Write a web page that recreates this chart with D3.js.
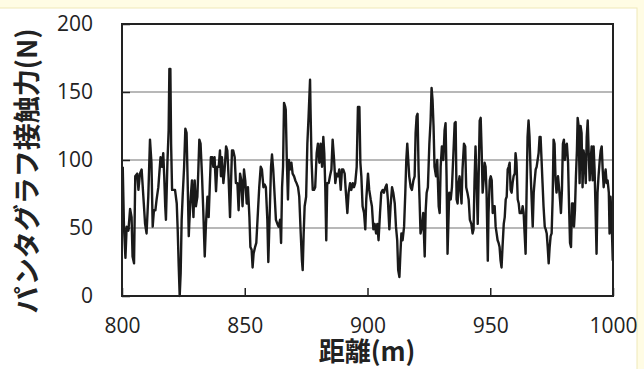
<!DOCTYPE html>
<html>
<head>
<meta charset="utf-8">
<script src="https://cdn.jsdelivr.net/npm/d3@7"></script>
<style>
  body { margin: 0; background: #fffce4; }
  svg { display: block; }
</style>
</head>
<body>
<div id="chart"></div>
<script>
// distance along track (m) and pantograph contact force (N)
const distance = [
  800.3,800.8,801.4,801.9,802.6,803.3,803.9,804.3,804.9,805.4,806.2,806.7,807.3,808.0,808.7,809.4,810.0,810.7,811.4,812.0,
  812.5,813.0,813.6,814.1,814.8,815.2,815.7,816.3,816.8,817.2,817.6,817.9,818.5,819.0,819.3,819.7,820.0,820.4,820.9,821.6,
  822.3,822.7,823.1,823.5,823.9,824.3,824.7,825.3,825.8,826.3,826.7,827.2,827.4,828.0,828.5,829.1,829.6,830.1,830.7,831.1,
  831.5,832.0,832.6,833.1,833.7,834.2,834.8,835.3,835.8,836.2,836.8,837.2,837.7,838.3,838.8,839.4,839.9,840.3,840.7,841.3,
  841.8,842.4,842.9,843.4,844.0,844.4,844.8,845.3,845.9,846.4,847.0,847.5,848.1,848.6,849.1,849.7,850.2,850.8,851.3,851.9,
  852.3,852.8,853.2,853.6,854.2,854.7,855.4,855.9,856.5,857.0,857.6,858.1,858.6,859.2,859.6,860.1,860.7,861.1,861.6,862.2,
  862.7,863.3,863.8,864.4,864.8,865.2,865.6,866.0,866.5,
  866.7,867.1,867.6,868.0,868.4,869.0,869.5,870.1,870.6,871.1,871.7,872.2,872.8,873.3,873.6,874.0,874.4,875.0,875.5,876.0,
  876.6,876.8,877.2,877.7,878.2,878.7,879.3,879.8,880.4,880.9,881.5,882.0,882.4,882.8,883.2,883.6,884.2,884.7,885.3,885.8,
  886.4,886.9,887.4,888.0,888.5,889.1,889.6,890.1,890.7,891.2,891.8,892.3,892.9,893.4,894.0,894.5,895.0,895.6,896.1,896.7,
  897.1,897.5,898.0,898.6,899.1,899.5,
  900.2,900.7,901.3,901.8,902.4,902.9,903.5,904.0,904.5,905.1,905.6,906.2,906.7,907.3,907.8,908.3,908.9,909.4,910.0,910.5,
  911.1,911.6,912.1,912.5,913.0,913.4,913.8,914.3,914.9,915.4,915.8,916.2,916.6,917.0,917.6,918.1,918.7,919.2,919.6,920.0,
  920.4,920.8,921.2,921.6,922.2,922.7,923.3,923.7,924.1,924.6,925.2,925.7,926.1,926.5,926.9,927.3,927.9,928.4,929.0,929.4,
  929.8,930.3,930.9,931.4,931.8,932.2,932.6,
  933.3,933.9,934.4,935.0,935.5,935.9,936.3,936.7,937.1,937.5,937.9,938.3,938.7,939.3,939.8,940.2,940.7,941.2,941.7,942.3,
  942.8,943.2,943.6,944.0,944.5,944.9,945.3,945.7,946.1,946.5,946.9,947.3,947.7,948.1,948.5,949.0,949.3,949.8,950.2,950.6,
  951.0,951.4,951.8,952.2,952.6,953.0,953.4,953.8,954.2,954.6,955.0,955.5,955.9,956.3,956.7,957.1,957.5,957.9,958.3,958.7,
  959.1,959.5,960.0,960.3,960.7,961.2,961.6,962.0,962.4,962.8,963.2,963.6,964.0,964.4,964.8,965.2,965.6,966.0,966.5,
  967.3,967.7,968.1,968.5,968.9,969.3,969.7,970.1,970.5,970.9,971.3,971.7,972.2,972.6,973.0,973.4,973.8,974.2,974.6,975.0,
  975.4,975.8,976.2,976.6,977.0,977.6,978.0,978.4,978.8,979.2,979.6,980.0,980.4,980.8,981.2,981.7,982.1,982.5,982.9,983.3,
  983.7,984.1,984.5,984.9,985.3,985.6,986.0,986.4,986.8,987.2,987.6,988.0,988.5,988.9,989.3,989.7,990.1,990.5,990.9,991.3,
  991.7,992.1,992.5,992.9,993.3,993.7,994.1,994.6,995.0,995.4,995.8,996.2,996.6,997.0,997.4,997.8,998.3,998.6,999.0,999.4,
  999.9
];
const force = [
  95,51,28,51,48,64,58,29,24,88,90,78,90,93,73,53,46,73,115,98,
  51,63,63,71,80,90,102,95,105,88,66,56,98,122,167,167,112,78,78,78,
  68,48,22,0,17,56,73,95,123,120,88,44,53,73,85,58,85,66,73,93,
  115,112,88,63,29,53,73,58,83,102,102,95,102,77,95,95,107,88,102,83,
  93,110,107,88,58,83,107,107,102,83,83,63,90,85,66,93,85,68,80,58,
  36,34,21,31,36,39,63,80,95,93,80,82,80,56,25,56,95,104,93,73,
  56,53,51,56,39,80,95,142,139,
  137,102,71,100,93,98,90,88,85,83,80,73,46,26,19,46,66,73,112,132,
  159,137,100,78,78,80,105,112,98,112,95,117,105,80,41,83,83,88,93,115,
  100,83,90,88,93,78,93,93,90,76,61,76,83,78,83,80,83,95,139,139,
  98,88,66,61,49,71,
  90,78,71,66,49,53,46,53,41,61,76,78,76,80,82,71,49,66,80,76,
  68,51,41,19,14,31,46,41,51,76,100,112,100,88,80,78,85,88,120,132,
  134,93,71,46,51,61,29,63,76,80,112,129,153,144,125,95,88,100,66,61,
  95,110,100,122,127,88,31,
  76,71,80,105,127,128,71,68,83,88,78,68,93,112,110,80,76,71,56,53,
  46,49,85,110,80,53,90,129,131,107,76,85,98,95,76,26,61,85,88,85,
  61,66,66,51,46,41,39,36,26,21,36,53,58,71,73,93,95,98,78,76,
  83,88,90,105,98,71,68,61,61,61,66,61,46,31,76,117,129,117,88,
  51,76,85,93,95,100,105,117,117,100,83,66,51,49,46,36,24,36,44,46,
  71,115,112,85,76,88,80,71,61,78,112,115,100,110,112,98,66,39,36,68,
  68,51,63,88,107,131,125,83,125,120,80,107,100,83,117,129,105,85,100,110,
  85,110,93,63,31,76,88,100,107,110,93,80,88,93,83,85,76,46,73,58,
  26
];
const xTicks = [800, 850, 900, 950, 1000];
const yTicks = [0, 50, 100, 150, 200];
const gridValues = [50, 100, 150];

const W = 644, H = 369;
const plotLeft = 122, plotRight = 613, plotTop = 24, plotBottom = 296;

const svg = d3.select("#chart").append("svg")
  .attr("width", W)
  .attr("height", H);

// white card on the pale yellow page
svg.append("rect")
  .attr("x", -1).attr("y", 8)
  .attr("width", 638).attr("height", H)
  .attr("fill", "#ffffff")
  .attr("stroke", "#efe8b8")
  .attr("stroke-width", 1);

const x = d3.scaleLinear().domain([800, 1000]).range([plotLeft, plotRight]);
const y = d3.scaleLinear().domain([0, 200]).range([plotBottom, plotTop]);

// gridlines
svg.append("g")
  .selectAll("line")
  .data(gridValues)
  .join("line")
  .attr("x1", plotLeft).attr("x2", plotRight)
  .attr("y1", d => y(d)).attr("y2", d => y(d))
  .attr("stroke", "#a0a0a0")
  .attr("stroke-width", 1.5);

// y axis
const yAxis = d3.axisLeft(y).tickValues(yTicks).tickSizeInner(-8).tickSizeOuter(0).tickPadding(29);
svg.append("g")
  .attr("transform", "translate(" + plotLeft + ",0)")
  .call(yAxis)
  .call(g => g.select(".domain").remove())
  .call(g => g.selectAll("line").attr("stroke", "#222").attr("stroke-width", 1.5))
  .call(g => g.selectAll("text")
    .attr("fill", "#222")
    .style("font", "21px 'Open Sans', sans-serif"));

// x axis
const xAxis = d3.axisBottom(x).tickValues(xTicks).tickFormat(d3.format("d"))
  .tickSizeInner(-8).tickSizeOuter(0).tickPadding(22);
svg.append("g")
  .attr("transform", "translate(0," + plotBottom + ")")
  .call(xAxis)
  .call(g => g.select(".domain").remove())
  .call(g => g.selectAll("line").attr("stroke", "#222").attr("stroke-width", 1.5))
  .call(g => g.selectAll("text")
    .attr("fill", "#222")
    .style("font", "21px 'Open Sans', sans-serif"));

// the force trace
const line = d3.line()
  .x((d, i) => x(distance[i]))
  .y(d => y(d));

svg.append("path")
  .datum(force)
  .attr("d", line)
  .attr("fill", "none")
  .attr("stroke", "#1a1a1a")
  .attr("stroke-width", 2.4)
  .attr("stroke-linejoin", "round");

// plot frame
svg.append("rect")
  .attr("x", plotLeft).attr("y", plotTop)
  .attr("width", plotRight - plotLeft).attr("height", plotBottom - plotTop)
  .attr("fill", "none")
  .attr("stroke", "#222")
  .attr("stroke-width", 2);

// axis titles
svg.append("text")
  .attr("x", 367).attr("y", 361)
  .attr("text-anchor", "middle")
  .attr("fill", "#222")
  .style("font", "bold 26px 'Noto Sans CJK JP', sans-serif")
  .text("距離(m)");

svg.append("text")
  .attr("transform", "translate(37,171) rotate(-90)")
  .attr("text-anchor", "middle")
  .attr("fill", "#222")
  .style("font", "bold 27px 'Noto Sans CJK JP', sans-serif")
  .text("パンタグラフ接触力(N)");
</script>
</body>
</html>
